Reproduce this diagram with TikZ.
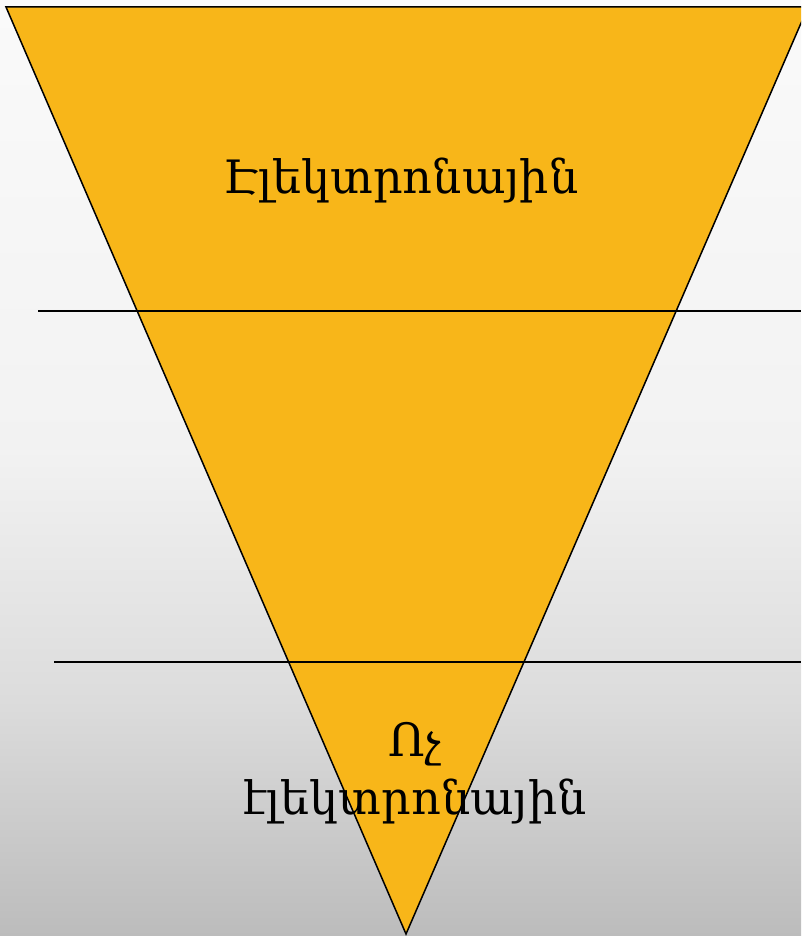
\documentclass[tikz,border=0pt]{standalone}
\usepackage{fontspec}
\setmainfont{DejaVu Serif}
\definecolor{fillor}{HTML}{F8B619}
\definecolor{bgtop}{HTML}{FAFAFA}
\definecolor{bgmid}{HTML}{F2F2F2}
\definecolor{bglow}{HTML}{DCDCDC}
\definecolor{bgbot}{HTML}{BCBCBC}
\pgfdeclareverticalshading{bgshade}{100bp}{color(0bp)=(bgbot); color(25bp)=(bgbot); color(37.6bp)=(bglow); color(51bp)=(bgmid); color(75bp)=(bgtop); color(100bp)=(bgtop)}
\begin{document}
\begin{tikzpicture}[x=1pt,y=-1pt,
  lbl/.style={font=\fontsize{46}{58}\selectfont, align=center, inner sep=0pt},
  sep/.style={draw=black, line width=1.2pt}]
\useasboundingbox (0,0) rectangle (801,936);
\shade[shading=bgshade] (0,0) rectangle (801,936);
\begin{scope}
\clip (0,0) rectangle (801,936);
\coordinate (tl) at (6,7);
\coordinate (tr) at (808,7);
\coordinate (apex) at (406,934);
\filldraw[fill=fillor, draw=black, line width=1.5pt] (tl) -- (tr) -- (apex) -- cycle;
\end{scope}
\coordinate (l1a) at (38,311); \coordinate (l1b) at (801,311);
\coordinate (l2a) at (54,662); \coordinate (l2b) at (801,662);
\draw[sep] (l1a) -- (l1b);
\draw[sep] (l2a) -- (l2b);
\node[lbl] (top) at (401,181) {Էլեկտրոնային};
\node[lbl] (bot) at (415,773) {Ոչ\\էլեկտրոնային};
\end{tikzpicture}
\end{document}
